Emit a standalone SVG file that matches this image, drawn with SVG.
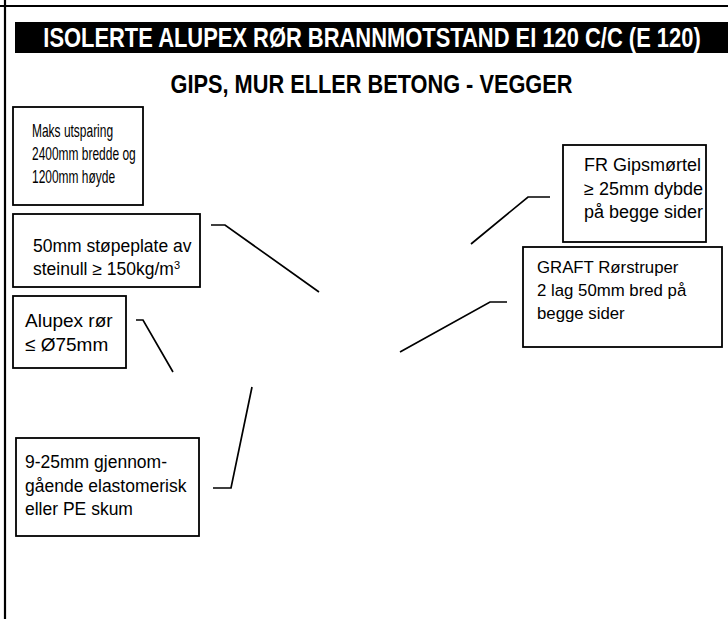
<svg xmlns="http://www.w3.org/2000/svg" width="728" height="619" viewBox="0 0 728 619">
<style>
.frame{stroke:#000;stroke-width:2.2;fill:none}
.box{fill:#fff;stroke:#000;stroke-width:1.8}
.t{font-family:"Liberation Sans",Arial,sans-serif;fill:#000}
.n{font-family:"Liberation Sans",Arial,sans-serif;fill:#000}
.conn{fill:none;stroke:#000;stroke-width:1.7;stroke-linejoin:miter}
.hd{font-family:"Liberation Sans",Arial,sans-serif;font-weight:bold}
</style>
<rect width="728" height="619" fill="#fff"/>
<g id="frame">
<line class="frame" x1="0" y1="6" x2="728" y2="6"/>
<line class="frame" x1="5" y1="0" x2="5" y2="619"/>
</g>
<g id="title">
<rect x="15" y="22" width="713" height="31" fill="#000"/>
<text class="hd" transform="translate(372,47) scale(0.812,1)" x="0" y="0" font-size="27" fill="#fff" text-anchor="middle">ISOLERTE ALUPEX RØR BRANNMOTSTAND EI 120 C/C (E 120)</text>
</g>
<g id="subtitle">
<text class="hd" transform="translate(371.5,93) scale(0.87,1)" x="0" y="0" font-size="25" fill="#000" text-anchor="middle">GIPS, MUR ELLER BETONG - VEGGER</text>
</g>
<g id="connectors">
<polyline class="conn" points="211,225 225,225 319,292"/>
<polyline class="conn" points="400,352 490,302 507,302"/>
<polyline class="conn" points="471,244 528,197 550,197"/>
<polyline class="conn" points="136,320 143,320 173,372"/>
<polyline class="conn" points="213,488 231,488 252,387"/>
</g>
<g id="box-maks">
<rect class="box" x="13" y="107" width="130" height="98"/>
<text class="n" font-size="18" transform="translate(32,0) scale(0.665,1)"><tspan x="0" y="137">Maks utsparing</tspan><tspan x="0" y="160">2400mm bredde og</tspan><tspan x="0" y="183">1200mm høyde</tspan></text>
</g>
<g id="box-stopeplate">
<rect class="box" x="13" y="214" width="187" height="73"/>
<text class="t" font-size="17.5"><tspan x="33" y="252">50mm støpeplate av</tspan><tspan x="33" y="275">steinull ≥ 150kg/m</tspan><tspan font-size="11" dy="-6">3</tspan></text>
</g>
<g id="box-alupex">
<rect class="box" x="13" y="296" width="113" height="72"/>
<text class="t" font-size="19"><tspan x="25" y="327">Alupex rør</tspan><tspan x="25" y="351">≤ Ø75mm</tspan></text>
</g>
<g id="box-skum">
<rect class="box" x="16" y="438" width="183" height="98"/>
<text class="t" font-size="17.5"><tspan x="25" y="468">9-25mm gjennom-</tspan><tspan x="25" y="492">gående elastomerisk</tspan><tspan x="25" y="515">eller PE skum</tspan></text>
</g>
<g id="box-gipsmortel">
<rect class="box" x="563" y="145" width="143" height="97"/>
<text class="t" font-size="18"><tspan x="584" y="171">FR Gipsmørtel</tspan><tspan x="584" y="195">≥ 25mm dybde</tspan><tspan x="584" y="218">på begge sider</tspan></text>
</g>
<g id="box-graft">
<rect class="box" x="523" y="247" width="199" height="100"/>
<text class="t" font-size="16.8"><tspan x="537" y="273">GRAFT Rørstruper</tspan><tspan x="537" y="296">2 lag 50mm bred på</tspan><tspan x="537" y="319">begge sider</tspan></text>
</g>
</svg>
